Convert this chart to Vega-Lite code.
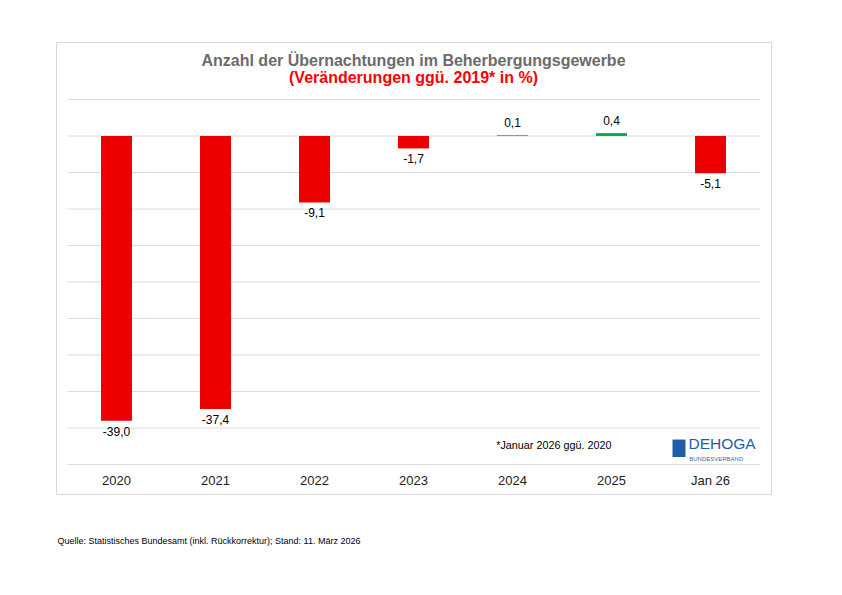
{
  "$schema": "https://vega.github.io/schema/vega-lite/v6.json",
  "width": 715,
  "height": 452,
  "autosize": {"type": "none"},
  "padding": {"left": 56, "top": 42, "right": 71, "bottom": 101},
  "background": "white",
  "title": {
    "text": "Anzahl der Übernachtungen im Beherbergungsgewerbe",
    "subtitle": "(Veränderungen ggü. 2019* in %)",
    "anchor": "middle",
    "frame": "group",
    "offset": -44,
    "font": "Liberation Sans",
    "fontSize": 16,
    "fontWeight": "bold",
    "color": "#6B6B6B",
    "subtitleFont": "Liberation Sans",
    "subtitleFontSize": 16,
    "subtitleFontWeight": "bold",
    "subtitleColor": "#FF0000",
    "subtitlePadding": 1
  },
  "config": {
    "font": "Liberation Sans",
    "view": {"stroke": "#D9D9D9", "strokeWidth": 1},
    "locale": {"number": {"decimal": ",", "thousands": ".", "grouping": [3], "currency": ["", " €"], "minus": "-"}},
    "axisX": {
      "domain": false,
      "ticks": false,
      "tickSize": 0,
      "grid": false,
      "labelAngle": 0,
      "labelFontSize": 13,
      "labelColor": "#222222",
      "labelBaseline": "middle",
      "labelPadding": -13.5,
      "titleFontSize": 9,
      "titleFontWeight": "normal",
      "titleColor": "#000000",
      "titleAnchor": "start",
      "titleAlign": "left",
      "titleBaseline": "middle",
      "titleX": 1,
      "titleY": 46.5
    }
  },
  "datasets": {
    "bars": [
      {"year": "2020", "v": -39.0},
      {"year": "2021", "v": -37.4},
      {"year": "2022", "v": -9.1},
      {"year": "2023", "v": -1.7},
      {"year": "2024", "v": 0.1},
      {"year": "2025", "v": 0.4},
      {"year": "Jan 26", "v": -5.1}
    ],
    "grid": [
      {"g": 5}, {"g": 0}, {"g": -5}, {"g": -10}, {"g": -15}, {"g": -20},
      {"g": -25}, {"g": -30}, {"g": -35}, {"g": -40}, {"g": -45}
    ],
    "notes": [
      {"t": "*Januar 2026 ggü. 2020"}
    ],
    "logo": [
      {"t": "DEHOGA", "s": "BUNDESVERBAND"}
    ]
  },
  "layer": [
    {
      "data": {"name": "grid"},
      "mark": {"type": "rule", "color": "#DDDDDD", "strokeWidth": 1},
      "encoding": {
        "x": {
          "datum": "2020",
          "type": "nominal",
          "bandPosition": 0,
          "scale": {"domain": ["2020", "2021", "2022", "2023", "2024", "2025", "Jan 26"], "paddingInner": 0, "paddingOuter": 0.111},
          "axis": {"title": "Quelle: Statistisches Bundesamt (inkl. Rückkorrektur); Stand: 11. März 2026"}
        },
        "x2": {"datum": "Jan 26", "bandPosition": 1},
        "y": {
          "field": "g",
          "type": "quantitative",
          "scale": {"domain": [-49.04, 12.88], "nice": false, "zero": false},
          "axis": null
        }
      }
    },
    {
      "data": {"name": "bars"},
      "mark": {"type": "bar", "width": {"band": 0.313}},
      "encoding": {
        "x": {
          "field": "year",
          "type": "nominal",
          "sort": null,
          "axis": {"title": "Quelle: Statistisches Bundesamt (inkl. Rückkorrektur); Stand: 11. März 2026"}
        },
        "y": {"field": "v", "type": "quantitative"},
        "color": {
          "condition": {"test": "datum.v < 0", "value": "#EE0000"},
          "value": "#00B050"
        }
      }
    },
    {
      "data": {"name": "bars"},
      "transform": [{"filter": "datum.v < 0"}],
      "mark": {"type": "text", "baseline": "top", "dy": 6, "fontSize": 12, "color": "#000000"},
      "encoding": {
        "x": {"field": "year", "type": "nominal", "sort": null},
        "y": {"field": "v", "type": "quantitative"},
        "text": {"field": "v", "type": "quantitative", "format": ".1f"}
      }
    },
    {
      "data": {"name": "bars"},
      "transform": [{"filter": "datum.v >= 0"}],
      "mark": {"type": "text", "baseline": "bottom", "dy": -5, "fontSize": 12, "color": "#000000"},
      "encoding": {
        "x": {"field": "year", "type": "nominal", "sort": null},
        "y": {"field": "v", "type": "quantitative"},
        "text": {"field": "v", "type": "quantitative", "format": ".1f"}
      }
    },
    {
      "data": {"name": "notes"},
      "mark": {"type": "text", "align": "right", "baseline": "middle", "fontSize": 10.8, "color": "#000000"},
      "encoding": {
        "x": {"datum": "2025", "type": "nominal"},
        "y": {"datum": -42.5, "type": "quantitative"},
        "text": {"field": "t"}
      }
    },
    {
      "data": {"name": "logo"},
      "mark": {"type": "rect", "color": "#1F5DA8"},
      "encoding": {
        "x": {"datum": "Jan 26", "type": "nominal", "bandPosition": 0.116},
        "x2": {"datum": "Jan 26", "bandPosition": 0.247},
        "y": {"datum": -41.58, "type": "quantitative"},
        "y2": {"datum": -43.97}
      }
    },
    {
      "data": {"name": "logo"},
      "mark": {"type": "text", "align": "left", "baseline": "alphabetic", "fontSize": 15.5, "color": "#1F5DA8"},
      "encoding": {
        "x": {"datum": "Jan 26", "type": "nominal", "bandPosition": 0.278},
        "y": {"datum": -42.9, "type": "quantitative"},
        "text": {"field": "t"}
      }
    },
    {
      "data": {"name": "logo"},
      "mark": {"type": "text", "align": "left", "baseline": "alphabetic", "fontSize": 6, "color": "#4A6A9A"},
      "encoding": {
        "x": {"datum": "Jan 26", "type": "nominal", "bandPosition": 0.285},
        "y": {"datum": -44.5, "type": "quantitative"},
        "text": {"field": "s"}
      }
    }
  ]
}
